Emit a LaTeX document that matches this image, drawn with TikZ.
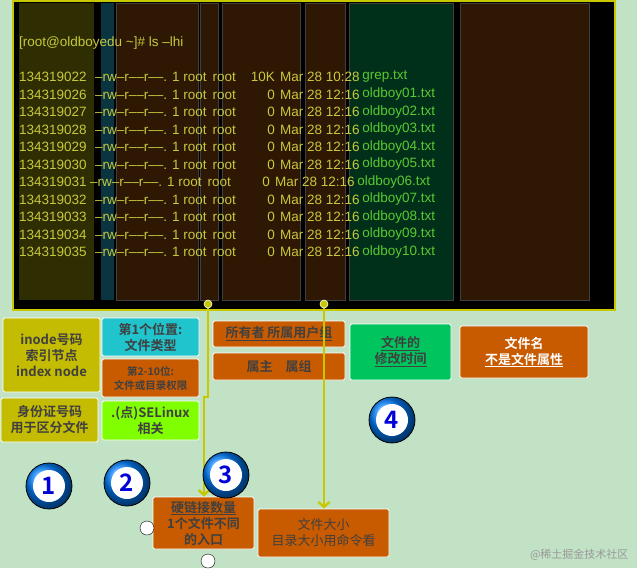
\documentclass[tikz,border=0pt]{standalone}
\usepackage{fontspec}
\usetikzlibrary{arrows.meta}
\setmainfont{Noto Sans CJK SC}[BoldFont={Noto Sans CJK SC Bold}]
\newfontfamily\termfont{Liberation Sans}
\begin{document}
\begin{tikzpicture}[x=1pt,y=-1pt,
  box/.style={draw=white,line width=0.8pt,rounded corners=1.5pt,font=\bfseries\fontsize{13}{16}\selectfont,align=center,inner sep=0pt},
  term/.style={anchor=west,inner sep=0pt,font=\termfont\fontsize{13.5}{14}\selectfont,text=termy},
  num/.style={circle,draw=black,line width=0.8pt,minimum size=46pt,ball color=cyan!50!blue,inner sep=0pt},
  arr/.style={draw=ylw,line width=2.4pt,-{Straight Barb[length=5pt,width=11pt]}},
  dot/.style={circle,fill=ylw,draw=white,line width=0.6pt,minimum size=8pt,inner sep=0pt}]
\definecolor{bg}{HTML}{C2E2C6}
\definecolor{olive}{HTML}{C4BC00}
\definecolor{cyanb}{HTML}{20C4CC}
\definecolor{orng}{HTML}{C85A00}
\definecolor{lime}{HTML}{80FF00}
\definecolor{grn}{HTML}{00C45E}
\definecolor{termy}{HTML}{C8C83C}
\definecolor{fgreen}{HTML}{5CC830}
\definecolor{ylw}{HTML}{C8C800}
\definecolor{bandb}{HTML}{2E1804}
\definecolor{bandy}{HTML}{2E2E02}
\definecolor{bandt}{HTML}{0A3440}
\definecolor{bandg}{HTML}{00301A}
\useasboundingbox (0,0) rectangle (637,568);
\fill[bg] (0,0) rectangle (637,568);
% terminal
\filldraw[fill=black,draw=ylw,line width=1.5pt] (13,1) rectangle (615,310);
\fill[bandy] (19,3) rectangle (94,300);
\fill[bandt] (101,3) rectangle (114,300);
\foreach \a/\b in {116/198,200/218,222/300,305/345,460/589}
  \filldraw[fill=bandb,draw=gray!50!black] (\a,3) rectangle (\b,300);
\filldraw[fill=bandg,draw=gray!50!black] (349,3) rectangle (453,300);
\node[term] (prompt) at (19,43) {[root@oldboyedu \textasciitilde]\# ls –lhi};
\foreach \i/\f/\s/\t/\d in {0/grep.txt/10K/10:28/0,1/oldboy01.txt/0/12:16/0,2/oldboy02.txt/0/12:16/0,3/oldboy03.txt/0/12:16/0,4/oldboy04.txt/0/12:16/0,5/oldboy05.txt/0/12:16/0,6/oldboy06.txt/0/12:16/-5,7/oldboy07.txt/0/12:16/0,8/oldboy08.txt/0/12:16/0,9/oldboy09.txt/0/12:16/0,10/oldboy10.txt/0/12:16/0}{
  \edef\n{\ifnum\i=0 134319022\else\the\numexpr134319025+\i\relax\fi}
  \pgfmathsetmacro{\yy}{77+\i*17.5}
  \node[term] (ino\i) at (19,\yy) {\n};
  \node[term] (perm\i) at (95+\d,\yy) {–rw–r––r––. 1 root\, root};
  \node[term,anchor=east] (sz\i) at (275+\d,\yy) {\s};
  \node[term] (dt\i) at (280+\d,\yy) {Mar 28 \t};
  \node[term,text=fgreen,anchor=west] (fn\i) at (dt\i.east) {\,\f};
}
% boxes
\node[box,fill=olive,minimum width=97pt,minimum height=74pt,text=black!75] (inode) at (51.5,355) {inode号码\\索引节点\\index node};
\node[box,fill=olive,minimum width=97pt,minimum height=44pt,text=black!75] (id) at (49.5,420) {身份证号码\\用于区分文件};
\node[box,fill=cyanb,minimum width=97pt,minimum height=38pt,text=black!75] (t1) at (150.5,337) {第1个位置:\\文件类型};
\node[box,fill=orng,minimum width=97pt,minimum height=38pt,text=black!75,font=\bfseries\fontsize{10.5}{14}\selectfont] (t2) at (150.5,378) {第2-10位:\\文件或目录权限};
\node[box,fill=lime,minimum width=97pt,minimum height=39pt,text=black!75] (se) at (150.5,420.5) {.(点)SELinux\\相关};
\node[box,fill=orng,minimum width=132pt,minimum height=26pt,text=black!75] (own) at (279,334) {\underline{所有者 所属用户组}};
\node[box,fill=orng,minimum width=132pt,minimum height=27pt,text=black!75] (og) at (279,366.5) {属主\quad 属组};
\node[box,fill=grn,minimum width=101pt,minimum height=56pt,text=black!75] (mt) at (400.5,352) {\underline{文件的}\\\underline{修改时间}};
\node[box,fill=orng,minimum width=128pt,minimum height=52pt,text=white] (fname) at (524,352) {文件名\\\underline{不是文件属性}};
\node[box,fill=orng,minimum width=101pt,minimum height=52pt,text=black!75] (hl) at (203.5,523) {\underline{硬链接数量}\\1个文件不同\\的入口};
\node[box,fill=orng,minimum width=131pt,minimum height=48pt,text=black!75,font=\fontsize{13}{16}\selectfont] (size) at (323.5,533) {文件大小\\目录大小用命令看};
% arrows
\node[dot] (d1) at (208,304) {};
\node[dot] (d2) at (324,304) {};
\draw[arr] (d1.south) -- (208,397) -- (204,397) -- (hl.north -| 204,0);
\draw[arr] (d2.south) -- (size.north -| d2);
% numbers
\foreach \n/\x/\y in {1/49/486,2/127/483,3/226/475,4/392/420}{
  \node[num] (c\n) at (\x,\y) {};
  \fill[white] (c\n) circle (16pt);
  \node[text=blue!85!black,font=\bfseries\fontsize{24}{24}\selectfont] at (c\n) {\n};
}
\node[circle,draw=black,fill=white,minimum size=14pt,inner sep=0pt] (w1) at (147,528) {};
\node[circle,draw=black,fill=white,minimum size=14pt,inner sep=0pt] (w2) at (208,561) {};
\node[text=gray!80,anchor=east,font=\fontsize{11}{11}\selectfont] (wm) at (632,555) {@稀土掘金技术社区};
\end{tikzpicture}
\end{document}
